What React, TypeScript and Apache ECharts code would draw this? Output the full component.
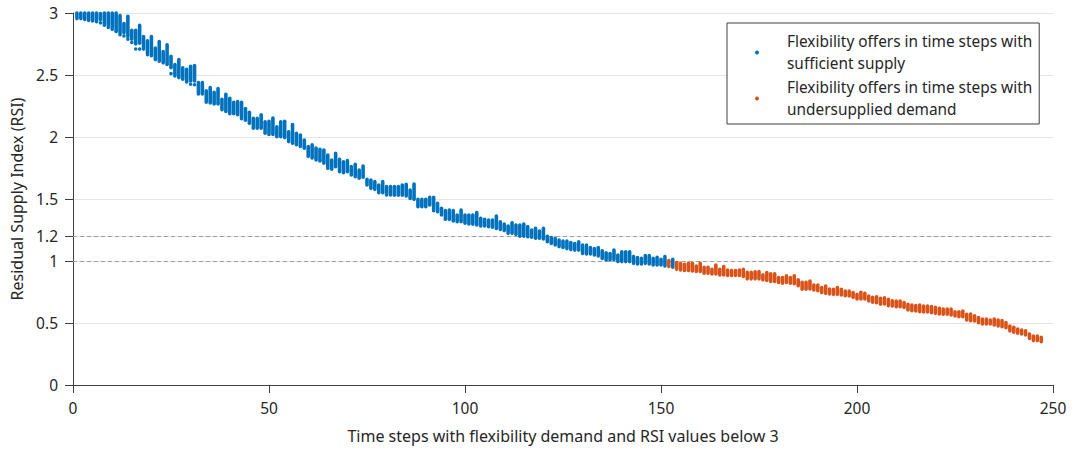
import React, { useEffect, useRef } from "react";
import * as echarts from "echarts";

// [time step, lowest RSI, highest RSI]
const sufficientRanges: [number, number, number][] = [
  [1, 2.955, 3.0], [2, 2.955, 3.0], [3, 2.947, 3.0], [4, 2.94, 3.0], [5, 2.935, 3.0],
  [6, 2.93, 3.0], [7, 2.947, 2.995], [8, 2.915, 3.0], [9, 2.902, 3.0], [10, 2.884, 3.0],
  [11, 2.857, 3.0], [12, 2.85, 2.98], [13, 2.84, 2.915], [14, 2.81, 2.973], [15, 2.788, 2.86],
  [16, 2.751, 2.86], [17, 2.757, 2.9], [18, 2.709, 2.81], [19, 2.677, 2.775], [20, 2.656, 2.81],
  [21, 2.624, 2.717], [22, 2.611, 2.77], [23, 2.598, 2.69], [24, 2.585, 2.743], [25, 2.558, 2.651],
  [26, 2.505, 2.585], [27, 2.479, 2.624], [28, 2.466, 2.558], [29, 2.444, 2.545], [30, 2.452, 2.571],
  [31, 2.452, 2.577], [32, 2.347, 2.439], [33, 2.347, 2.439], [34, 2.28, 2.373], [35, 2.275, 2.399],
  [36, 2.267, 2.36], [37, 2.267, 2.39], [38, 2.22, 2.304], [39, 2.206, 2.344], [40, 2.188, 2.312],
  [41, 2.188, 2.28], [42, 2.18, 2.286], [43, 2.148, 2.28], [44, 2.135, 2.23], [45, 2.11, 2.2],
  [46, 2.07, 2.15], [47, 2.07, 2.15], [48, 2.07, 2.18], [49, 2.03, 2.122], [50, 2.02, 2.127],
  [51, 2.02, 2.153], [52, 2.003, 2.082], [53, 2.003, 2.122], [54, 1.995, 2.127], [55, 1.963, 2.042],
  [56, 1.95, 2.1], [57, 1.937, 2.03], [58, 1.923, 2.016], [59, 1.91, 1.976], [60, 1.844, 1.923],
  [61, 1.831, 1.937], [62, 1.815, 1.91], [63, 1.815, 1.9], [64, 1.788, 1.895], [65, 1.761, 1.855],
  [66, 1.74, 1.815], [67, 1.761, 1.868], [68, 1.72, 1.82], [69, 1.712, 1.8], [70, 1.72, 1.81],
  [71, 1.694, 1.761], [72, 1.68, 1.78], [73, 1.667, 1.734], [74, 1.675, 1.766], [75, 1.613, 1.659],
  [76, 1.586, 1.653], [77, 1.578, 1.64], [78, 1.551, 1.613], [79, 1.551, 1.64], [80, 1.532, 1.6],
  [81, 1.532, 1.6], [82, 1.53, 1.6], [83, 1.53, 1.6], [84, 1.53, 1.613], [85, 1.524, 1.618],
  [86, 1.505, 1.573], [87, 1.497, 1.62], [88, 1.438, 1.497], [89, 1.438, 1.497], [90, 1.438, 1.497],
  [91, 1.452, 1.513], [92, 1.417, 1.513], [93, 1.398, 1.465], [94, 1.371, 1.425], [95, 1.336, 1.406],
  [96, 1.336, 1.41], [97, 1.323, 1.406], [98, 1.317, 1.371], [99, 1.317, 1.41], [100, 1.304, 1.371],
  [101, 1.298, 1.371], [102, 1.296, 1.371], [103, 1.29, 1.39], [104, 1.282, 1.344], [105, 1.282, 1.336],
  [106, 1.277, 1.331], [107, 1.272, 1.331], [108, 1.263, 1.363], [109, 1.255, 1.317], [110, 1.245, 1.298],
  [111, 1.223, 1.282], [112, 1.223, 1.309], [113, 1.215, 1.29], [114, 1.2, 1.29], [115, 1.2, 1.298],
  [116, 1.196, 1.277], [117, 1.191, 1.25], [118, 1.183, 1.263], [119, 1.183, 1.242], [120, 1.177, 1.263],
  [121, 1.156, 1.2], [122, 1.142, 1.19], [123, 1.129, 1.183], [124, 1.116, 1.169], [125, 1.109, 1.16],
  [126, 1.1, 1.16], [127, 1.093, 1.149], [128, 1.088, 1.141], [129, 1.088, 1.155], [130, 1.061, 1.128],
  [131, 1.056, 1.128], [132, 1.056, 1.109], [133, 1.048, 1.101], [134, 1.04, 1.109], [135, 1.021, 1.083],
  [136, 1.008, 1.067], [137, 1.008, 1.061], [138, 1.013, 1.088], [139, 0.995, 1.048], [140, 0.995, 1.075],
  [141, 0.995, 1.075], [142, 0.995, 1.075], [143, 0.981, 1.035], [144, 0.976, 1.027], [145, 0.976, 1.021],
  [146, 0.981, 1.043], [147, 0.976, 1.043], [148, 0.968, 1.021], [149, 0.968, 1.029], [150, 0.968, 1.013],
  [151, 0.96, 1.035], [153, 0.949, 1.013],
];

// isolated offers below the bars: [time step, RSI]
const sufficientDots: [number, number][] = [
  [7, 2.92], [8, 2.902], [9, 2.884], [10, 2.868], [11, 2.85], [12, 2.838], [12, 2.825],
  [13, 2.815], [14, 2.788], [15, 2.762], [16, 2.71], [17, 2.709], [19, 2.664], [25, 2.511],
  [26, 2.492], [30, 2.426], [31, 2.421], [63, 1.806], [65, 1.747], [92, 1.405],
];

const undersuppliedRanges: [number, number, number][] = [
  [152, 0.955, 1.003], [154, 0.933, 0.987], [155, 0.928, 0.981], [156, 0.923, 0.973], [157, 0.923, 0.981],
  [158, 0.92, 0.981], [159, 0.915, 0.96], [160, 0.915, 0.981], [161, 0.901, 0.949], [162, 0.901, 0.949],
  [163, 0.896, 0.933], [164, 0.896, 0.968], [165, 0.888, 0.933], [166, 0.888, 0.955], [167, 0.883, 0.928],
  [168, 0.883, 0.923], [169, 0.883, 0.923], [170, 0.883, 0.928], [171, 0.875, 0.933], [172, 0.856, 0.909],
  [173, 0.856, 0.909], [174, 0.856, 0.912], [175, 0.856, 0.915], [176, 0.848, 0.888], [177, 0.843, 0.907],
  [178, 0.835, 0.896], [179, 0.835, 0.896], [180, 0.827, 0.867], [181, 0.821, 0.867], [182, 0.827, 0.88],
  [183, 0.821, 0.867], [184, 0.816, 0.88], [185, 0.8, 0.848], [186, 0.772, 0.828], [187, 0.772, 0.828],
  [188, 0.774, 0.839], [189, 0.766, 0.806], [190, 0.761, 0.806], [191, 0.745, 0.785], [192, 0.739, 0.798],
  [193, 0.734, 0.774], [194, 0.731, 0.772], [195, 0.731, 0.785], [196, 0.726, 0.772], [197, 0.72, 0.758],
  [198, 0.718, 0.758], [199, 0.707, 0.745], [200, 0.694, 0.731], [201, 0.694, 0.747], [202, 0.694, 0.739],
  [203, 0.677, 0.718], [204, 0.667, 0.707], [205, 0.664, 0.712], [206, 0.651, 0.699], [207, 0.653, 0.704],
  [208, 0.64, 0.691], [209, 0.637, 0.68], [210, 0.632, 0.677], [211, 0.632, 0.677], [212, 0.626, 0.664],
  [213, 0.605, 0.651], [214, 0.599, 0.645], [215, 0.597, 0.64], [216, 0.591, 0.645], [217, 0.589, 0.637],
  [218, 0.589, 0.637], [219, 0.583, 0.632], [220, 0.578, 0.626], [221, 0.573, 0.618], [222, 0.57, 0.613],
  [223, 0.57, 0.613], [224, 0.565, 0.613], [225, 0.556, 0.591], [226, 0.551, 0.591], [227, 0.551, 0.597],
  [228, 0.524, 0.57], [229, 0.519, 0.573], [230, 0.516, 0.559], [231, 0.503, 0.543], [232, 0.492, 0.532],
  [233, 0.492, 0.532], [234, 0.492, 0.524], [235, 0.484, 0.532], [236, 0.476, 0.524], [237, 0.47, 0.519],
  [238, 0.462, 0.503], [239, 0.435, 0.476], [240, 0.425, 0.465], [241, 0.417, 0.452], [242, 0.411, 0.444],
  [243, 0.403, 0.438], [244, 0.376, 0.411], [245, 0.358, 0.395], [246, 0.358, 0.395], [247, 0.349, 0.384],
];

const yTickValues = [0, 0.5, 1, 1.2, 1.5, 2, 2.5, 3];
const thresholdValues = [1, 1.2];
const seriesNames = [
  "Flexibility offers in time steps with\nsufficient supply",
  "Flexibility offers in time steps with\nundersupplied demand",
];
const xAxisTitle = "Time steps with flexibility demand and RSI values below 3";
const yAxisTitle = "Residual Supply Index (RSI)";

const FONT = "'Noto Sans', 'Open Sans', sans-serif";
const TEXT = "#262626";

export default function App() {
  const ref = useRef<HTMLDivElement>(null);

  useEffect(() => {
    if (!ref.current) return;
    const chart = echarts.init(ref.current, undefined, { renderer: "svg" });

    const renderItem = (_params: any, api: any) => {
      const top = api.coord([api.value(0), api.value(2)]);
      const bot = api.coord([api.value(0), api.value(1)]);
      const w = 3.6;
      return {
        type: "rect",
        shape: { x: top[0] - w / 2, y: top[1] - w / 2, width: w, height: bot[1] - top[1] + w, r: w / 2 },
        style: { fill: api.visual("color") },
      };
    };

    const blueData = [
      ...sufficientRanges.map((d) => [d[0], d[1], d[2]]),
      ...sufficientDots.map((d) => [d[0], d[1], d[1]]),
    ];
    const orangeData = undersuppliedRanges.map((d) => [d[0], d[1], d[2]]);

    chart.setOption({
      animation: false,
      textStyle: { fontFamily: FONT },
      grid: { left: 73, right: 24, top: 13, bottom: 65 },
      legend: {
        left: 727,
        top: 23,
        orient: "vertical",
        padding: [8, 7, 4, 28],
        itemWidth: 50,
        itemHeight: 4,
        itemGap: 3,
        borderColor: "#404040",
        borderWidth: 1,
        backgroundColor: "#ffffff",
        data: seriesNames.map((n) => ({ name: n, icon: "circle" })),
        textStyle: { fontFamily: FONT, fontSize: 15.4, lineHeight: 21.5, color: TEXT },
      },
      xAxis: {
        type: "value",
        min: 0,
        max: 250,
        interval: 50,
        name: xAxisTitle,
        nameLocation: "middle",
        nameGap: 43,
        nameTextStyle: { fontFamily: FONT, fontSize: 16, color: TEXT },
        axisLine: { show: true, lineStyle: { color: "#404040", width: 1 } },
        axisTick: { show: true, inside: false, length: 8, lineStyle: { color: "#404040" } },
        axisLabel: { fontFamily: FONT, fontSize: 15.5, color: TEXT, margin: 15 },
        splitLine: { show: false },
      },
      yAxis: {
        type: "value",
        min: 0,
        max: 3,
        interval: 0.5,
        name: yAxisTitle,
        nameLocation: "middle",
        nameGap: 47,
        nameTextStyle: { fontFamily: FONT, fontSize: 16, color: TEXT },
        axisLine: { show: true, lineStyle: { color: "#404040", width: 1 } },
        axisTick: { show: true, inside: false, length: 8, customValues: yTickValues, lineStyle: { color: "#404040" } },
        axisLabel: { fontFamily: FONT, fontSize: 15.5, color: TEXT, margin: 15, customValues: yTickValues },
        splitLine: { show: true, lineStyle: { color: "#e5e5e5", width: 1 } },
      },
      series: [
        {
          name: seriesNames[0],
          type: "custom",
          renderItem,
          itemStyle: { color: "#0072BD" },
          encode: { x: 0, y: [1, 2] },
          data: blueData,
          z: 3,
          markLine: {
            silent: true,
            symbol: "none",
            label: { show: false },
            lineStyle: { type: [4, 3], color: "#a0a0a0", width: 1 },
            data: thresholdValues.map((v) => ({ yAxis: v })),
            z: 1,
          },
        },
        {
          name: seriesNames[1],
          type: "custom",
          renderItem,
          itemStyle: { color: "#D95319" },
          encode: { x: 0, y: [1, 2] },
          data: orangeData,
          z: 3,
        },
      ],
    });

    return () => chart.dispose();
  }, []);

  return (
    <div
      ref={ref}
      style={{ position: "fixed", left: 0, top: 0, width: 1077, height: 450, background: "#fff" }}
    />
  );
}
